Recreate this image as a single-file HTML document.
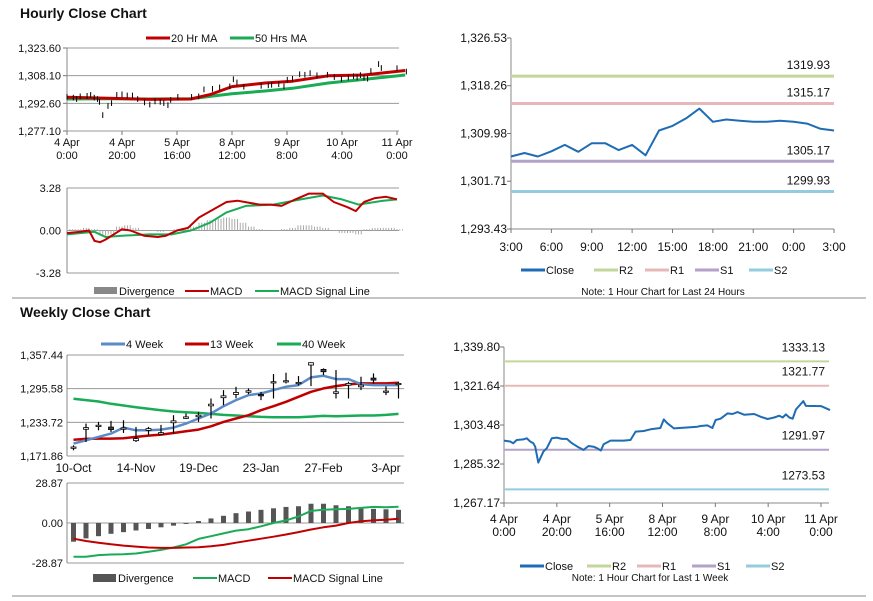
<!DOCTYPE html>
<html><head><meta charset="utf-8"><style>
html,body{margin:0;padding:0;background:#fff;}
svg{display:block;font-family:"Liberation Sans",Arial,sans-serif;}
</style></head><body>
<svg id="s" width="873" height="601" viewBox="0 0 873 601" xmlns="http://www.w3.org/2000/svg">
<rect x="0" y="0" width="873" height="601" fill="#fff"/>
<text x="20" y="18" font-size="14" font-weight="bold" fill="#111">Hourly Close Chart</text>
<text x="20" y="317" font-size="14" font-weight="bold" fill="#111">Weekly Close Chart</text>
<line x1="12" y1="298" x2="866" y2="298" stroke="#888" stroke-width="1"/>
<line x1="12" y1="596" x2="866" y2="596" stroke="#888" stroke-width="1"/>
</svg>
<script>
// ---------- DATA ----------
// hourly week series (hours since 4 Apr 0:00)
const weekHours = [0,2.3,3.5,4.8,7.3,8.6,9.9,11.1,11.8,13.0,14.9,16.2,18.1,20,21.9,23.8,25.7,28.2,30.1,32,33.9,35.2,36.7,37.7,40.3,45.3,47.9,49.8,52.9,55.5,59.2,60.5,61.8,64.3,70.6,73.2,74.4,77,78.9,80.1,82,84.6,86.5,88.4,90.9,94.7,97.2,99.8,102.3,104.2,105.5,106.7,108,109.3,110.5,113.3,114.3,120,123.4];
const weekClose = [1296.2,1295.8,1295.0,1296.5,1296.8,1297.3,1295.8,1295.0,1293.4,1286.0,1291.1,1292.7,1297.3,1297.6,1297.0,1297.0,1295.0,1293.1,1291.9,1293.7,1293.4,1292.7,1291.6,1294.5,1296.2,1296.2,1296.5,1300.4,1300.7,1301.5,1302.1,1306.1,1304.3,1301.9,1302.4,1302.7,1303.0,1303.3,1302.1,1305.8,1306.4,1308.9,1308.6,1309.5,1308.3,1308.6,1307.3,1306.3,1307.0,1307.8,1307.0,1308.4,1307.0,1306.4,1310.7,1314.6,1312.4,1312.3,1310.4];
const maHours = [0,15,30,45,52,60,72,82,95,108,123];
const ma20 = [1296.0,1295.5,1294.8,1295.0,1297.5,1302.0,1304.0,1305.0,1308.0,1308.5,1311.0];
const ma50 = [1295.0,1295.2,1295.0,1295.2,1296.5,1298.0,1299.5,1301.0,1304.0,1306.0,1308.5];
const hMacdHours = [0,5,8,10,12,14,17,20,23,28,33,36,40,44,48,53,58,62,70,74,78,83,88,93,97,102,105,108,112,116,120];
const hMacd = [-0.2,-0.1,0,-0.8,-0.9,-0.7,-0.3,0.1,0,-0.4,-0.5,-0.4,0,0.2,1.0,1.6,2.2,2.3,2.0,2.0,1.9,2.4,2.85,2.85,2.2,1.8,1.5,2.2,2.5,2.6,2.4];
const hSigHours = [0,10,14,20,30,38,45,52,58,65,75,85,93,100,106,115,120];
const hSig = [-0.3,-0.1,-0.5,-0.4,-0.3,-0.3,0,0.6,1.4,1.9,2.0,2.4,2.7,2.4,2.0,2.3,2.4];
const hDivHours = [0,3,6,9,12,15,18,21,24,27,30,33,36,39,42,45,48,51,54,57,60,63,66,69,72,75,78,81,84,87,90,93,96,99,102,105,108,111,114,117,120];
const hDiv = [0.1,0.1,0.2,0.1,-0.4,-0.3,0.3,0.4,0.2,0,0,-0.1,0,0.1,0.2,0.3,0.6,0.8,0.9,1.0,0.9,0.6,0.3,0.1,0.05,0,0.1,0.2,0.4,0.4,0.3,0.2,0,-0.2,-0.2,-0.3,0.1,0.2,0.2,0.2,0.1];
const hourlyXTicks = [["4 Apr","0:00"],["4 Apr","20:00"],["5 Apr","16:00"],["8 Apr","12:00"],["9 Apr","8:00"],["10 Apr","4:00"],["11 Apr","0:00"]];
// last 24 hours
const dayLabels = ["3:00","6:00","9:00","12:00","15:00","18:00","21:00","0:00","3:00"];
const dayClose = [1306.0,1306.6,1306.0,1306.9,1308.0,1306.8,1308.3,1308.3,1307.1,1308.0,1306.2,1310.5,1311.3,1312.6,1314.3,1312.0,1312.4,1312.2,1312.0,1312.0,1312.2,1312.0,1311.7,1310.8,1310.5];
const dayLevels = [1319.93,1315.17,1305.17,1299.93];
const weekLevels = [1333.13,1321.77,1291.97,1273.53];
const levelNames = ["R2","R1","S1","S2"];
// weekly
const weeks = ["10-Oct","17-Oct","24-Oct","31-Oct","7-Nov","14-Nov","21-Nov","28-Nov","5-Dec","12-Dec","19-Dec","26-Dec","2-Jan","9-Jan","16-Jan","23-Jan","30-Jan","6-Feb","13-Feb","20-Feb","27-Feb","6-Mar","13-Mar","20-Mar","27-Mar","3-Apr","10-Apr"];
const wOpen  = [1186,1221,1226,1225,1221,1200,1219,1212,1233,1241,1244,1264,1279,1285,1289,1285,1306,1308,1305,1339,1331,1287,1302,1299,1315,1289,1303];
const wClose = [1188.4,1224.0,1228.4,1220.4,1223.4,1203.8,1222.2,1214.8,1236.4,1243.7,1246.8,1267.1,1282.4,1288.6,1291.7,1282.4,1308.3,1310.1,1307.0,1343.3,1326.7,1289.8,1305.2,1302.1,1311.3,1291.1,1305.2];
const wHigh  = [1191.5,1231.4,1234.5,1236.4,1237.6,1225.3,1225.3,1229.0,1246.8,1249.9,1253.0,1277.5,1292.9,1299.0,1296.0,1289.8,1322.4,1324.9,1318.7,1343.9,1332.9,1329.8,1308.3,1317.5,1323.6,1300.0,1308.3];
const wLow   = [1182.3,1197.6,1219.1,1216.1,1214.2,1197.6,1209.9,1211.0,1213.0,1240.0,1234.5,1240.7,1265.2,1278.0,1285.5,1274.5,1277.5,1305.2,1301.5,1300.3,1320.5,1277.5,1277.5,1292.9,1305.0,1283.7,1277.5];
const w4  = [1194.6,1200.7,1206.9,1213.0,1224.0,1219.1,1219.1,1220.4,1224.0,1231.4,1240.7,1249.9,1263.4,1274.5,1283.7,1286.7,1292.9,1299.0,1302.1,1316.3,1319.3,1313.2,1313.2,1304.0,1302.1,1302.1,1302.1];
const w13 = [1201.9,1203.2,1203.8,1203.8,1204.4,1206.9,1209.3,1211.1,1214.2,1217.3,1220.4,1226.5,1234.5,1240.7,1246.8,1256.0,1263.4,1271.4,1280.6,1289.8,1296.0,1300.3,1303.4,1305.2,1305.2,1305.2,1306.4];
const w40 = [1276.9,1274.5,1272.0,1267.7,1264.6,1261.5,1258.5,1256.0,1253.6,1252.3,1251.1,1249.3,1247.4,1246.2,1245.0,1243.7,1243.1,1243.1,1243.1,1244.3,1245.6,1245.0,1245.6,1246.2,1246.2,1247.4,1249.3];
const wDiv = [-13.5,-11.1,-9.5,-7.8,-6.6,-5.4,-4.3,-3.1,-1.9,-0.7,1.4,3.3,5.2,7.1,8.3,9.5,10.6,11.6,12.1,13.9,13.9,12.8,12.1,11.3,10.2,9.9,9.5];
const wMacd = [-24.3,-24.3,-23.2,-22.7,-22.5,-22.0,-20.8,-19.4,-17.7,-15.4,-11.5,-9.5,-7.5,-5.5,-4.5,-2.4,0,1.9,4.7,8.7,9.5,9.9,10.2,10.9,11.6,11.3,11.8];
const wSig = [-11.3,-13.0,-14.2,-15.4,-16.3,-17.0,-17.7,-18.0,-18.0,-17.7,-17.5,-16.8,-15.8,-14.2,-12.8,-11.3,-9.9,-8.3,-6.6,-4.7,-3.1,-1.9,0,1.2,1.9,2.4,3.1];

// ---------- helpers ----------
const S = document.getElementById('s');
const NS = 'http://www.w3.org/2000/svg';
function el(tag, attrs, name, inter){
  const e = document.createElementNS(NS, tag);
  for (const k in attrs) e.setAttribute(k, attrs[k]);
  
  
  S.appendChild(e); return e;
}
function txt(x,y,s,name,opt){
  opt = opt||{};
  const e = el('text',{x:x,y:y,'font-size':opt.size||11,'text-anchor':opt.anchor||'start',fill:opt.fill||'#111'},name,false);
  e.textContent = s; return e;
}
function lin(a,b,dom0,dom1){ return v => a + (v-dom0)/(dom1-dom0)*(b-a); }
function poly(xs,ys,sx,sy,color,w,name){
  const d = xs.map((x,i)=>(i?'L':'M')+sx(x).toFixed(1)+','+sy(ys[i]).toFixed(1)).join('');
  return el('path',{d:d,fill:'none',stroke:color,'stroke-width':w,'stroke-linejoin':'round'},name,false);
}
function hl(x1,x2,y,color,w,name){ return el('line',{x1:x1,x2:x2,y1:y,y2:y,stroke:color,'stroke-width':w},name,false); }
function vl(x,y1,y2,color,w,name){ return el('line',{x1:x,x2:x,y1:y1,y2:y2,stroke:color,'stroke-width':w},name,false); }
function fmt(v){ return v.toLocaleString('en-US',{minimumFractionDigits:2,maximumFractionDigits:2}); }
function legendLine(x,y,color,label,name,w){
  hl(x,x+24,y,color,w||3,name+'-swatch');
  txt(x+25,y+4,label,name+'-label',{size:11});
}

// ---------- Hourly price (top-left) ----------
(function(){
  const x0=67,x1=399,y0=48,y1=131;
  const sx = lin(67,397,0,120), sy = lin(y1,y0,1277.10,1323.60);
  const ticks=[1323.60,1308.10,1292.60,1277.10];
  ticks.forEach(t=>{ hl(x0,x1,sy(t),'#999',1,'hourly-gridline'); hl(x0-4,x0,sy(t),'#777',1,'hourly-y-tick'); txt(x0-6,sy(t)+4,fmt(t),'hourly-y-label',{anchor:'end'}); });
  vl(x0,y0,y1,'#888',1,'hourly-y-axis');
  hourlyXTicks.forEach((l,i)=>{ const x=sx(i*20); vl(x,y1,y1+4,'#777',1,'hourly-x-tick'); txt(x,y1+15,l[0],'hourly-x-label',{anchor:'middle'}); txt(x,y1+28,l[1],'hourly-x-label',{anchor:'middle'}); });
  poly(maHours,ma50,sx,sy,'#1aab56',3,'ma50-line');
  poly(maHours,ma20,sx,sy,'#c00000',3,'ma20-line');
  weekClose.forEach((v,i)=>{ const x=sx(weekHours[i]); vl(x,sy(v+1.6),sy(v-1.6),'#000',1,'hourly-candle'); });
  legendLine(146,38,'#c00000','20 Hr MA','legend-20hr-ma');
  legendLine(230,38,'#1aab56','50 Hrs MA','legend-50hrs-ma');
})();

// ---------- Hourly MACD ----------
(function(){
  const x0=67,x1=399,yT=188,yB=273;
  const sx = lin(67,397,0,120), sy = lin(yB,yT,-3.28,3.28);
  [3.28,0,-3.28].forEach(t=>{ hl(x0,x1,sy(t),'#999',1,'hmacd-gridline'); txt(x0-6,sy(t)+4,t.toFixed(2),'hmacd-y-label',{anchor:'end'}); });
  vl(x0,yT,yB,'#888',1,'hmacd-y-axis');
  hDiv.forEach((v,i)=>{ for(let k=0;k<3;k++){ const x=sx(hDivHours[i]+k); const y=sy(Math.max(v,0)); el('rect',{x:x-0.5,y:y,width:1,height:Math.abs(sy(v)-sy(0))||0.5,fill:'#aaa'},'hmacd-divergence-bar',false);} });
  poly(hSigHours,hSig,sx,sy,'#1aab56',2,'hmacd-signal-line');
  poly(hMacdHours,hMacd,sx,sy,'#c00000',2,'hmacd-macd-line');
  el('rect',{x:94,y:287,width:23,height:7,fill:'#888'},'legend-divergence-swatch',false);
  txt(119,295,'Divergence','legend-divergence-label');
  legendLine(185,291,'#c00000','MACD','legend-macd',2);
  legendLine(255,291,'#1aab56','MACD Signal Line','legend-signal',2);
})();

// ---------- Close chart generic (right) ----------
function levelChart(cfg){
  const {x0,x1,yT,yB,min,max,ticks,levels,pfx} = cfg;
  const sy = lin(yB,yT,min,max);
  vl(x0,yT,yB,'#888',1,pfx+'-y-axis'); hl(x0,x1,yB,'#888',1,pfx+'-x-axis');
  ticks.forEach(t=>{ hl(x0-4,x0,sy(t),'#777',1,pfx+'-y-tick'); txt(x0-4,sy(t)+4,fmt(t),pfx+'-y-label',{anchor:'end',size:12}); });
  const cols=['#c3d69b','#e6b9b8','#b3a2c7','#93cddd'];
  levels.forEach((v,i)=>{ hl(x0,x1,sy(v),cols[i],cfg.lw,pfx+'-level-'+levelNames[i].toLowerCase()); txt(x1-4,sy(v)-(cfg.lw>2?7:10),v.toFixed(2),pfx+'-level-label',{anchor:'end',size:12}); });
  return sy;
}
// top-right: last 24 hours
(function(){
  const sy = levelChart({x0:511,x1:834,yT:38,yB:229,min:1293.43,max:1326.53,ticks:[1326.53,1318.26,1309.98,1301.71,1293.43],levels:dayLevels,pfx:'day',lw:3});
  const sx = lin(511,834,0,24);
  dayLabels.forEach((l,i)=>{ const x=sx(i*3); vl(x,229,233,'#777',1,'day-x-tick'); txt(x,251,l,'day-x-label',{anchor:'middle',size:12}); });
  poly(dayClose.map((v,i)=>i),dayClose,sx,sy,'#1f6cb4',2,'day-close-line');
  legendLine(521,270,'#1f6cb4','Close','legend-day-close');
  legendLine(594,270,'#c3d69b','R2','legend-day-r2');
  legendLine(645,270,'#e6b9b8','R1','legend-day-r1');
  legendLine(695,270,'#b3a2c7','S1','legend-day-s1');
  legendLine(749,270,'#93cddd','S2','legend-day-s2');
  txt(663,295,'Note: 1 Hour Chart for Last 24 Hours','day-note',{anchor:'middle',size:10});
})();
// bottom-right: last week
(function(){
  const sy = levelChart({x0:504,x1:829,yT:347,yB:503,min:1267.17,max:1339.80,ticks:[1339.80,1321.64,1303.48,1285.32,1267.17],levels:weekLevels,pfx:'week',lw:2});
  const sx = lin(504,821,0,120);
  hourlyXTicks.forEach((l,i)=>{ const x=sx(i*20); vl(x,503,507,'#777',1,'week-x-tick'); txt(x,523,l[0],'week-x-label',{anchor:'middle',size:12}); txt(x,536,l[1],'week-x-label',{anchor:'middle',size:12}); });
  poly(weekHours,weekClose,sx,sy,'#1f6cb4',2,'week-close-line');
  legendLine(520,566,'#1f6cb4','Close','legend-week-close');
  legendLine(587,566,'#c3d69b','R2','legend-week-r2');
  legendLine(637,566,'#e6b9b8','R1','legend-week-r1');
  legendLine(692,566,'#b3a2c7','S1','legend-week-s1');
  legendLine(746,566,'#93cddd','S2','legend-week-s2');
  txt(650,581,'Note: 1 Hour Chart for Last 1 Week','week-note',{anchor:'middle',size:10});
})();

// ---------- Weekly price ----------
(function(){
  const x0=67,x1=404,yT=355,yB=456;
  const bw=12.5;
  const sx = i => 73.5 + i*bw;
  const sy = lin(yB,yT,1171.86,1357.44);
  [1357.44,1295.58,1233.72,1171.86].forEach(t=>{ hl(x0,x1,sy(t),'#999',1,'weekly-gridline'); txt(x0-4,sy(t)+4,fmt(t),'weekly-y-label',{anchor:'end'}); });
  vl(x0,yT,yB,'#888',1,'weekly-y-axis');
  weeks.forEach((w,i)=>{ if(i%5===0){ txt(sx(i),472,w,'weekly-x-label',{anchor:'middle',size:12}); } });
  poly(weeks.map((w,i)=>i),w40,sx,sy,'#1aab56',2.5,'week40-line');
  poly(weeks.map((w,i)=>i),w13,sx,sy,'#c00000',2.5,'week13-line');
  poly(weeks.map((w,i)=>i),w4,sx,sy,'#5b8ac6',2.5,'week4-line');
  weeks.forEach((w,i)=>{
    const x=sx(i);
    vl(x,sy(wHigh[i]),sy(wLow[i]),'#000',1.2,'weekly-candle-wick');
    const top=sy(Math.max(wOpen[i],wClose[i])), bot=sy(Math.min(wOpen[i],wClose[i]));
    el('rect',{x:x-2.5,y:top,width:5,height:Math.max(bot-top,1.2),fill:wClose[i]>=wOpen[i]?'#fff':'#444',stroke:'#000','stroke-width':0.8},'weekly-candle-body',false);
  });
  legendLine(101,344,'#5b8ac6','4 Week','legend-4-week');
  legendLine(185,344,'#c00000','13 Week','legend-13-week');
  legendLine(277,344,'#1aab56','40 Week','legend-40-week');
})();

// ---------- Weekly MACD ----------
(function(){
  const x0=67,x1=404,yT=483,yB=563;
  const bw=12.5;
  const sx = i => 73.5 + i*bw;
  const sy = lin(yB,yT,-28.87,28.87);
  [28.87,0,-28.87].forEach(t=>{ hl(x0,x1,sy(t),'#999',1,'wmacd-gridline'); txt(x0-4,sy(t)+4,t.toFixed(2),'wmacd-y-label',{anchor:'end'}); });
  vl(x0,yT,yB,'#888',1,'wmacd-y-axis');
  wDiv.forEach((v,i)=>{ el('rect',{x:sx(i)-2.5,y:sy(Math.max(v,0)),width:5,height:Math.abs(sy(v)-sy(0)),fill:'#555'},'wmacd-divergence-bar',false); });
  poly(weeks.map((w,i)=>i),wMacd,sx,sy,'#1aab56',2,'wmacd-macd-line');
  poly(weeks.map((w,i)=>i),wSig,sx,sy,'#c00000',2,'wmacd-signal-line');
  el('rect',{x:93,y:574,width:23,height:8,fill:'#555'},'legend-wdivergence-swatch',false);
  txt(118,582,'Divergence','legend-wdivergence-label');
  legendLine(193,578,'#1aab56','MACD','legend-wmacd',2);
  legendLine(268,578,'#c00000','MACD Signal Line','legend-wsignal',2);
})();
</script>
</body></html>
